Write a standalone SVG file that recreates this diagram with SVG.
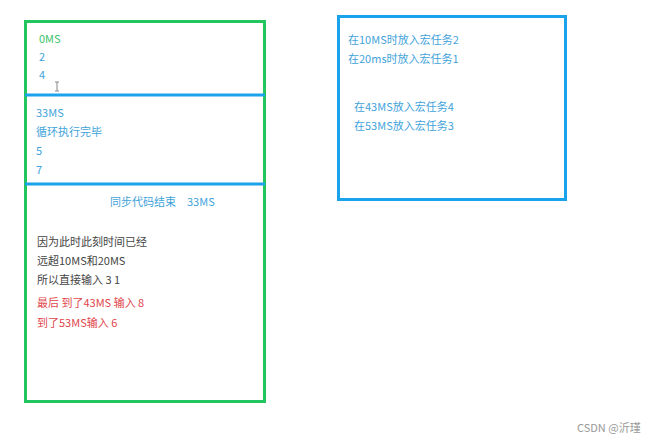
<svg xmlns="http://www.w3.org/2000/svg" width="660" height="443" viewBox="0 0 660 443">
<style>
text{font-family:"Noto Sans CJK SC","Liberation Sans",sans-serif;font-size:11px}
.g{fill:#3cc26a}.b{fill:#3fa3da}.k{fill:#444}.r{fill:#e0454a}.w{fill:#999}
</style>
<rect width="660" height="443" fill="#fff"/>
<g id="left-box">
<rect x="25.5" y="21.5" width="239" height="380" fill="none" stroke="#22c55e" stroke-width="3"/>
<line x1="25" y1="95" x2="265" y2="95" stroke="#1aa3ea" stroke-width="3"/>
<line x1="25" y1="184" x2="265" y2="184" stroke="#1aa3ea" stroke-width="3"/>
</g>
<g id="section1">
<text class="g" x="39" y="43">0MS</text>
<text class="b" x="39" y="61">2</text>
<text class="b" x="39" y="79">4</text>
<path d="M55 82h4M57 82v9M55 91h4" stroke="#888" stroke-width="1" fill="none"/>
</g>
<g id="section2">
<text class="b" x="36" y="117">33MS</text>
<text class="b" x="36" y="136">循环执行完毕</text>
<text class="b" x="36" y="155">5</text>
<text class="b" x="36" y="174">7</text>
</g>
<g id="section3">
<text class="b" x="110" y="206">同步代码结束　33MS</text>
<text class="k" x="37" y="246">因为此时此刻时间已经</text>
<text class="k" x="37" y="265">远超10MS和20MS</text>
<text class="k" x="37" y="284">所以直接输入 3 1</text>
<text class="r" x="37" y="307">最后 到了43MS 输入 8</text>
<text class="r" x="37" y="327">到了53MS输入 6</text>
</g>
<g id="right-box">
<rect x="338.5" y="16.5" width="227" height="183" fill="none" stroke="#1aa3ea" stroke-width="3"/>
<text class="b" x="348" y="44">在10MS时放入宏任务2</text>
<text class="b" x="348" y="63">在20ms时放入宏任务1</text>
<text class="b" x="354" y="111">在43MS放入宏任务4</text>
<text class="b" x="354" y="130">在53MS放入宏任务3</text>
</g>
<text class="w" x="577" y="432" font-size="11">CSDN @沂瑾</text>
</svg>
